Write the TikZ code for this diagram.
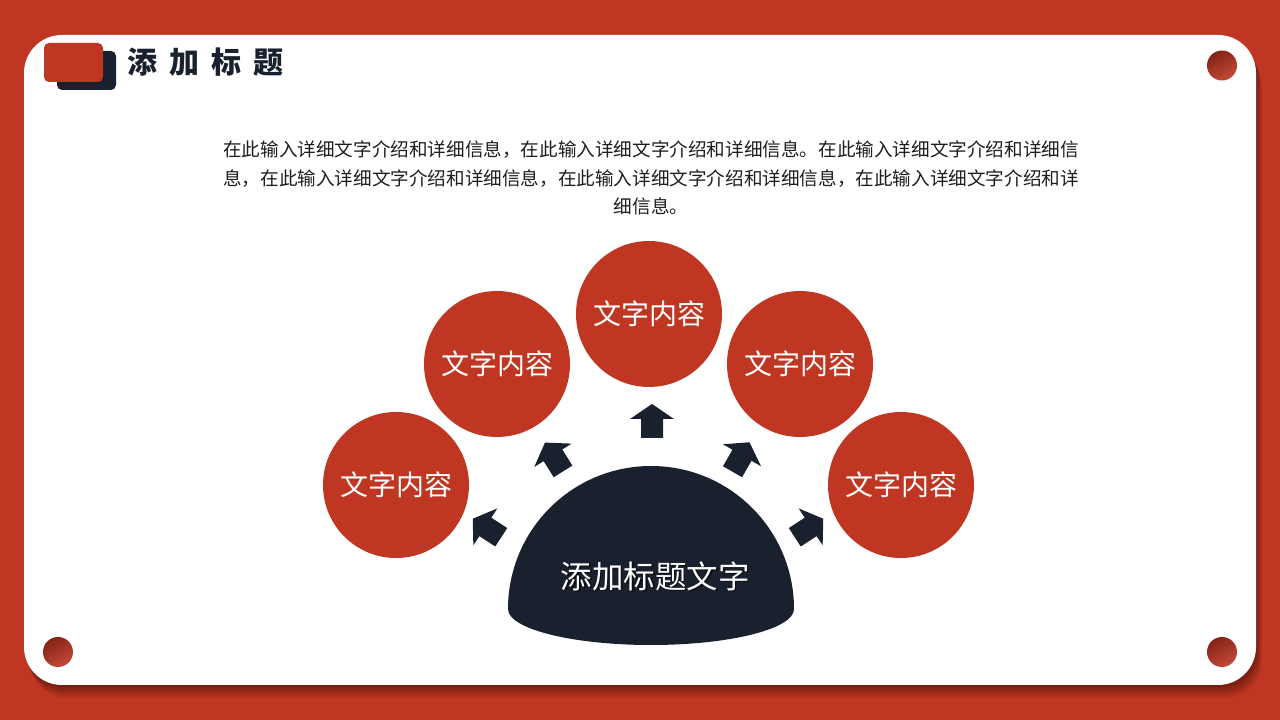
\documentclass[tikz,border=0pt]{standalone}
\usepackage{fontspec}
\setmainfont{Noto Sans CJK SC}
\definecolor{bgred}{RGB}{191,54,34}
\definecolor{darkred}{RGB}{130,35,22}
\definecolor{navy}{RGB}{25,33,46}
\definecolor{txt}{RGB}{30,30,30}
\tikzset{
  bubble/.style={circle, fill=bgred, minimum size=146pt, inner sep=0pt, text=white, font=\fontsize{28}{30}\selectfont},
  dot/.style={top color=darkred, bottom color=bgred!90!white, shading angle=30},
  blockarrow/.pic={\fill[navy] (17,0) -- (2,22) -- (2,11) -- (-17,11) -- (-17,-11) -- (2,-11) -- (2,-22) -- cycle;}
}
\begin{document}
\begin{tikzpicture}[x=1pt,y=1pt]
\useasboundingbox (0,0) rectangle (1280,720);
\fill[bgred] (0,0) rectangle (1280,720);
% card shadow
\foreach \i in {1,...,12}{
  \fill[black, opacity=0.035, rounded corners=38] (24+\i*0.5,35-\i*1.1) rectangle (1256+\i*0.5,685-\i*1.1);
}
\fill[white, rounded corners=38] (24,35) rectangle (1256,685);
% corner dots
\shade[dot] (1222,654.5) circle (15);
\shade[dot] (58,68) circle (15);
\shade[dot] (1222,68) circle (15);
% title icon
\fill[navy, rounded corners=5] (57,630) rectangle (116,669);
\fill[bgred, rounded corners=5] (44,638) rectangle (103,677);
\node[anchor=west, inner sep=0pt, text=navy, font=\fontsize{30}{32}\selectfont\bfseries] (title) at (127,657.5)
  {添\hspace{12pt}加\hspace{12pt}标\hspace{12pt}题};
% paragraph
\node[align=center, inner sep=0pt, text=txt, font=\fontsize{18.6}{28.5}\selectfont] (para) at (651,542)
  {在此输入详细文字介绍和详细信息，在此输入详细文字介绍和详细信息。在此输入详细文字介绍和详细信\\
   息，在此输入详细文字介绍和详细信息，在此输入详细文字介绍和详细信息，在此输入详细文字介绍和详\\
   细信息。};
% bubbles
\node[bubble] (c1) at (396,235) {文字内容};
\node[bubble] (c2) at (497,356) {文字内容};
\node[bubble] (c3) at (649,406) {文字内容};
\node[bubble] (c4) at (800,356) {文字内容};
\node[bubble] (c5) at (901,235) {文字内容};
% dome
\fill[navy] (508,111) arc[start angle=180, end angle=0, radius=143]
  arc[start angle=0, end angle=-180, x radius=143, y radius=36] -- cycle;
\node[inner sep=0pt, text=black, opacity=0.6, font=\fontsize{31.5}{33}\selectfont] at (656.5,142.5) {添加标题文字};
\node[inner sep=0pt, text=white, font=\fontsize{31.5}{33}\selectfont] (dome) at (655,144) {添加标题文字};
% arrows
\pic[rotate=90] at (652,299) {blockarrow};
\pic[rotate=122] at (554,263) {blockarrow};
\pic[rotate=60] at (741,263) {blockarrow};
\pic[rotate=147] at (487,192) {blockarrow};
\pic[rotate=33] at (809,192) {blockarrow};
\end{tikzpicture}
\end{document}
